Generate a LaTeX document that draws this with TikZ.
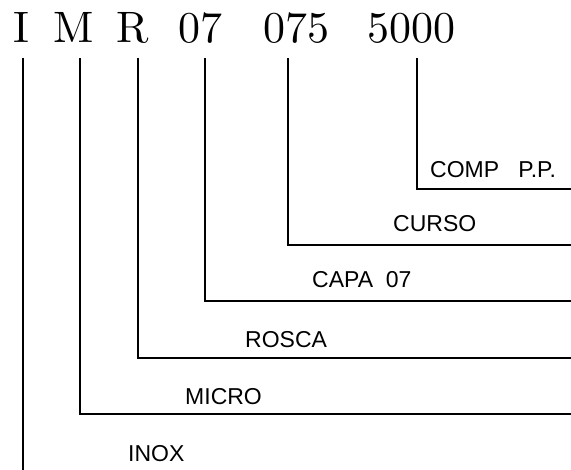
\documentclass[tikz,border=0pt]{standalone}
\usepackage{fontspec}
\newfontfamily\cadfont{Liberation Sans}
\newfontfamily\codefont{lmroman10-regular}[Extension=.otf]
\usetikzlibrary{positioning}
\tikzset{code/.style={font=\codefont\fontsize{44}{44}\selectfont,inner sep=0pt,anchor=base},
	 lbl/.style={font=\cadfont\fontsize{23}{23}\selectfont,inner sep=0pt,anchor=base west},
	 leader/.style={line width=1.2pt}
	 }

\begin{document}
\begin{tikzpicture}[x=1pt,y=-1pt] % codigo de pedido
	\useasboundingbox (0,0) rectangle (571,470);
	% partes del codigo
	\node[code] (cI) at (21,43) {I};
	\node[code] (cM) at (74,43) {M};
	\node[code] (cR) at (133,43) {R};
	\node[code] (cCapa) at (200,43) {07};
	\node[code] (cCurso) at (296,43) {075};
	\node[code] (cComp) at (411,43) {5000};
	% descripciones
	\node[lbl] (lComp) at (430,178) {COMP\ \ \ P.P.};
	\node[lbl] (lCurso) at (393,232) {CURSO};
	\node[lbl] (lCapa) at (312,288) {CAPA\ \ 07};
	\node[lbl] (lRosca) at (245,348) {ROSCA};
	\node[lbl] (lMicro) at (185,405) {MICRO};
	\node[lbl] (lInox) at (128,462) {INOX};
	% lineas
	\coordinate (tI) at (23,58);
	\coordinate (tM) at (80,58);
	\coordinate (tR) at (138,58);
	\coordinate (tCapa) at (205,58);
	\coordinate (tCurso) at (288,58);
	\coordinate (tComp) at (417,58);
	\coordinate (eComp) at (571,189);
	\coordinate (eCurso) at (571,245);
	\coordinate (eCapa) at (571,301);
	\coordinate (eRosca) at (571,358);
	\coordinate (eMicro) at (571,414);
	\coordinate (eInox) at (23,470);
	\draw[leader] (tComp) |- (eComp);
	\draw[leader] (tCurso) |- (eCurso);
	\draw[leader] (tCapa) |- (eCapa);
	\draw[leader] (tR) |- (eRosca);
	\draw[leader] (tM) |- (eMicro);
	\draw[leader] (tI) -- (eInox);
\end{tikzpicture}
\end{document}
